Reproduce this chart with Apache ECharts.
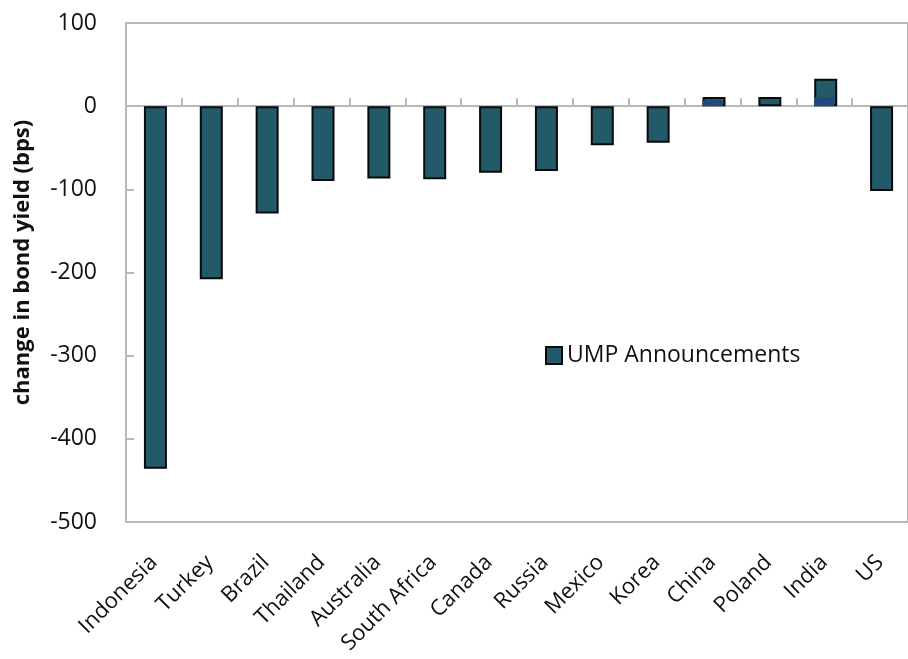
<!DOCTYPE html>
<html>
<head>
<meta charset="utf-8">
<script src="https://cdn.jsdelivr.net/npm/echarts@6/dist/echarts.min.js"></script>
<style>
  html, body { margin: 0; padding: 0; background: #fff; }
  #chart { width: 908px; height: 659px; }
</style>
</head>
<body>
<div id="chart"></div>
<script>
// Countries, ordered by the change in their 10-year bond yield
const countries = ['Indonesia', 'Turkey', 'Brazil', 'Thailand', 'Australia', 'South Africa',
  'Canada', 'Russia', 'Mexico', 'Korea', 'China', 'Poland', 'India', 'US'];

// Cumulative change around UMP announcements (bps)
const umpAnnouncements = [-436, -208, -129, -90, -87, -88, -80, -78, -47, -44, 11, 11, 33, -102];

// Smaller overlaid component visible inside the China and India bars (bps)
const overlayPart = [null, null, null, null, null, null, null, null, null, null, 7, null, 11, null];

// Value axis ticks
const yMin = -500, yMax = 100, yStep = 100;

const teal = '#235a69';
const navy = '#1f4a7d';
const frame = '#b8b8b8';
const font = '"Open Sans", "Noto Sans", sans-serif';

const chart = echarts.init(document.getElementById('chart'), null, { renderer: 'canvas' });

chart.setOption({
  animation: false,
  backgroundColor: '#ffffff',
  textStyle: { fontFamily: font },
  grid: {
    left: 126, top: 23, right: -5, bottom: 137,
    show: true, borderColor: frame, borderWidth: 2, backgroundColor: 'transparent'
  },
  legend: {
    data: [{ name: 'UMP Announcements', icon: 'rect' }],
    left: 545, top: 344, padding: 0,
    itemWidth: 16, itemHeight: 17, itemGap: 6,
    textStyle: { fontSize: 23, color: '#111', fontFamily: font }
  },
  xAxis: [
    {
      // category labels along the bottom of the plot
      type: 'category', data: countries, position: 'bottom',
      axisLine: { show: false, onZero: false },
      axisTick: { show: false },
      axisLabel: { rotate: 45, fontSize: 22, color: '#111', margin: 37, interval: 0, fontFamily: font }
    },
    {
      // zero line with category separators
      type: 'category', data: countries, position: 'top',
      axisLine: { show: true, onZero: true, lineStyle: { color: frame, width: 2 } },
      axisTick: { show: true, inside: false, length: 8, interval: 0, lineStyle: { color: frame, width: 2 } },
      axisLabel: { show: false }
    }
  ],
  yAxis: {
    type: 'value', min: yMin, max: yMax, interval: yStep,
    name: 'change in bond yield (bps)', nameLocation: 'middle', nameGap: 92,
    nameTextStyle: { fontSize: 22, fontWeight: 'bold', color: '#111', fontFamily: font, padding: [0, 0, 0, 20] },
    axisLine: { show: true, lineStyle: { color: frame, width: 2 } },
    axisTick: { show: true, inside: true, length: 8, lineStyle: { color: frame, width: 2 } },
    axisLabel: { fontSize: 23, color: '#111', margin: 29, fontFamily: font },
    splitLine: { show: false }
  },
  series: [
    {
      name: 'UMP Announcements', type: 'bar', xAxisIndex: 0,
      data: umpAnnouncements, barWidth: 23, barGap: '-100%',
      itemStyle: { color: teal, borderColor: '#0a0a0a', borderWidth: 2 }
    },
    {
      name: 'overlay', type: 'bar', xAxisIndex: 0,
      data: overlayPart, barWidth: 20, barGap: '-100%',
      itemStyle: { color: navy }
    }
  ]
});
</script>
</body>
</html>
